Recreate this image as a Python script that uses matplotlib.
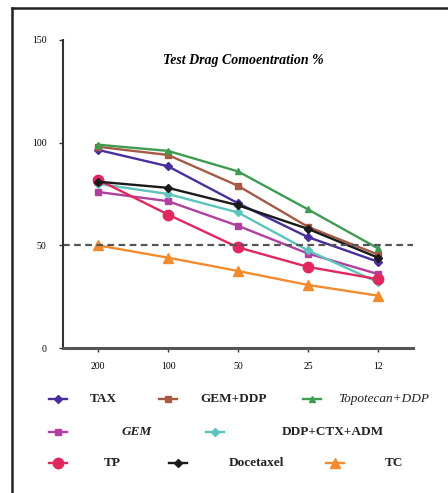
import matplotlib
matplotlib.use("Agg")
import matplotlib.pyplot as plt
from matplotlib.lines import Line2D

# data
conc = ["200", "100", "50", "25", "12"]

tax = [96.5, 88.5, 70.5, 54, 42]
gem_ddp = [98, 94, 79, 59, 45.5]
topo_ddp = [99, 96, 86, 67.5, 48.5]
gem = [76, 71.5, 59.5, 46, 36]
ddp_ctx_adm = [80, 75, 66, 47.5, 32]
tp = [82, 65, 49, 39.5, 33.5]
docetaxel = [81, 78, 69.5, 58, 44]
tc = [50, 44, 37.5, 30.7, 25.5]

series = [
    # label, values, color, marker, size, style
    ("TAX", tax, "#4a2f9c", "D", 4.5, "bold"),
    ("GEM+DDP", gem_ddp, "#a65a45", "s", 5, "bold"),
    ("Topotecan+DDP", topo_ddp, "#3f9a52", "^", 5, "italic"),
    ("GEM", gem, "#b0409e", "s", 4, "bolditalic"),
    ("DDP+CTX+ADM", ddp_ctx_adm, "#5cc4bc", "D", 4.5, "bold"),
    ("TP", tp, "#e2275f", "o", 7.5, "bold"),
    ("Docetaxel", docetaxel, "#1a1a1a", "D", 4.5, "bold"),
    ("TC", tc, "#f28a2e", "^", 7.5, "bold"),
]

plt.rcParams['font.family'] = ['Liberation Serif', 'DejaVu Serif']

fig = plt.figure(figsize=(4.48, 4.93), dpi=100)
ax = fig.add_axes([63 / 448, 145 / 493, 350 / 448, 308 / 493])

x = list(range(len(conc)))
for label, vals, color, marker, ms, style in series:
    ax.plot(x, vals, color=color, marker=marker, markersize=ms, linewidth=1.7)

ax.axhline(50, color="#555555", linestyle="--", linewidth=1.6, dashes=(3, 2))

ax.set_xlim(-0.5, 4.5)
ax.set_ylim(0, 150)
ax.set_xticks(x)
ax.set_xticklabels(conc)
ax.set_yticks([0, 50, 100, 150])
ax.tick_params(axis="both", labelsize=7, length=3, width=1, color="#333333")
ax.tick_params(axis="y", pad=9)
ax.tick_params(axis="x", pad=7)
ax.spines["top"].set_visible(False)
ax.spines["right"].set_visible(False)
ax.spines["left"].set_linewidth(1.5)
ax.spines["left"].set_color("#333333")
ax.spines["bottom"].set_linewidth(2.2)
ax.spines["bottom"].set_color("#555555")

ax.text(0.515, 0.932, "Test Drag Comoentration %", transform=ax.transAxes,
        ha="center", va="center", fontsize=10, fontweight="bold", style="italic")

# frame lines (top and left)
fig.add_artist(Line2D([12 / 448, 12 / 448], [0, 1 - 8 / 493], color="#222222", linewidth=1.8))
fig.add_artist(Line2D([12 / 448, 1], [1 - 8 / 493, 1 - 8 / 493], color="#222222", linewidth=1.8))

# legend laid out by hand, like the original
legend_pos = {
    "TAX": (58, 90, 399),
    "GEM+DDP": (168, 200, 399),
    "Topotecan+DDP": (312, 338, 399),
    "GEM": (58, 122, 432),
    "DDP+CTX+ADM": (215, 282, 432),
    "TP": (58, 104, 463),
    "Docetaxel": (178, 229, 463),
    "TC": (335, 385, 463),
}
for label, vals, color, marker, ms, style in series:
    hx, tx, ty = legend_pos[label]
    yf = 1 - ty / 493
    fig.add_artist(Line2D([(hx - 9) / 448, (hx + 9) / 448], [yf, yf],
                          color=color, linewidth=1.7))
    fig.add_artist(Line2D([hx / 448], [yf], color=color, marker=marker,
                          markersize=ms, linestyle="none"))
    weight = "bold" if "bold" in style else "normal"
    fstyle = "italic" if "italic" in style else "normal"
    fig.text(tx / 448, yf, label, ha="left", va="center", fontsize=9.5,
             fontweight=weight, style=fstyle, color="#222222")

fig.savefig("out.png", dpi=100)
